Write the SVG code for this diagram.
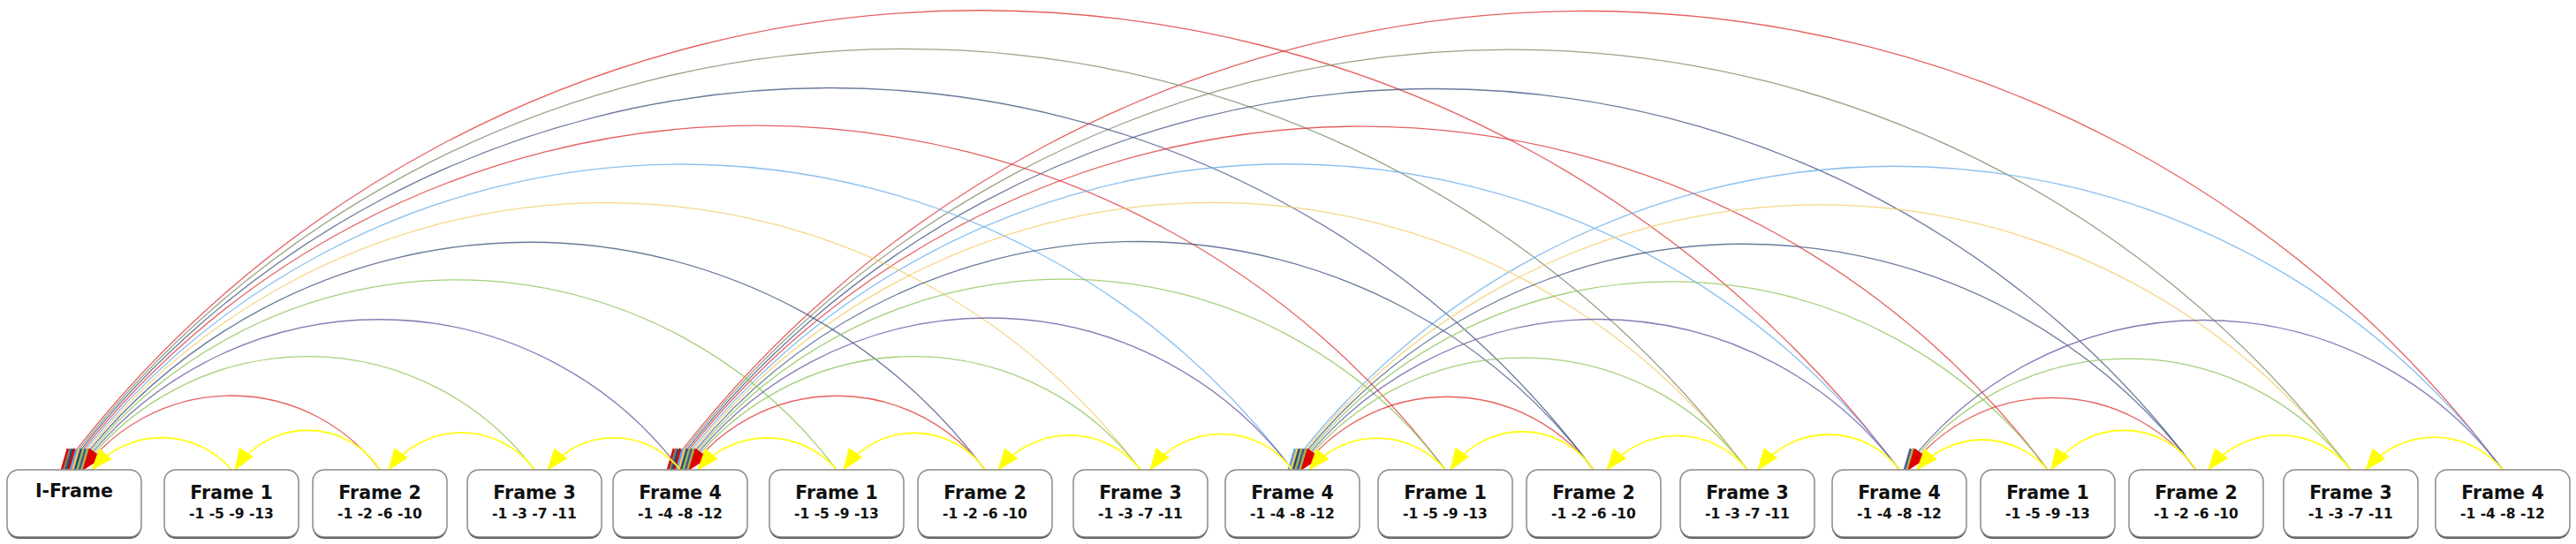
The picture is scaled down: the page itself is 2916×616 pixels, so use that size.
<svg xmlns="http://www.w3.org/2000/svg" width="2916" height="616" viewBox="0 0 2916 616">
<style>
.box{fill:#fff;stroke:#8a8a8a;stroke-width:1.5}
.sh{fill:#4a4a4a}
.t1{font-family:"DejaVu Sans","Liberation Sans",sans-serif;font-weight:bold;font-size:20.5px;fill:#111;text-anchor:middle}
.t2{font-family:"DejaVu Sans","Liberation Sans",sans-serif;font-weight:bold;font-size:15.5px;fill:#111;text-anchor:middle}
path.e{fill:none;stroke-width:1.3}
.y{stroke:#FFFF1A;stroke-width:1.8!important}
.r{stroke:#E03A3A;stroke-opacity:.8}
.g{stroke:#8DC45A;stroke-opacity:.8}
.p{stroke:#6A5BA3;stroke-opacity:.8}
.n{stroke:#3A4E7C;stroke-opacity:.75}
.o{stroke:#F2CC66;stroke-opacity:.8}
.b{stroke:#6AAFEE;stroke-opacity:.8}
.ol{stroke:#7E8C68;stroke-opacity:.8}
</style>
<defs>
<marker id="my" viewBox="0 0 25 19" refX="24" refY="9.5" markerWidth="25" markerHeight="19" markerUnits="userSpaceOnUse" orient="auto"><path d="M0,0 L25,9.5 L0,19 z" fill="#FFFF00"/></marker>
<marker id="mr" viewBox="0 0 25 19" refX="24" refY="9.5" markerWidth="25" markerHeight="19" markerUnits="userSpaceOnUse" orient="auto"><path d="M0,0 L25,9.5 L0,19 z" fill="#E00000"/></marker>
<marker id="mg" viewBox="0 0 25 19" refX="24" refY="9.5" markerWidth="25" markerHeight="19" markerUnits="userSpaceOnUse" orient="auto"><path d="M0,0 L25,9.5 L0,19 z" fill="#92C24E"/></marker>
<marker id="mp" viewBox="0 0 25 19" refX="24" refY="9.5" markerWidth="25" markerHeight="19" markerUnits="userSpaceOnUse" orient="auto"><path d="M0,0 L25,9.5 L0,19 z" fill="#5B4C9A"/></marker>
<marker id="mn" viewBox="0 0 25 19" refX="24" refY="9.5" markerWidth="25" markerHeight="19" markerUnits="userSpaceOnUse" orient="auto"><path d="M0,0 L25,9.5 L0,19 z" fill="#2E4A7A"/></marker>
<marker id="mo" viewBox="0 0 25 19" refX="24" refY="9.5" markerWidth="25" markerHeight="19" markerUnits="userSpaceOnUse" orient="auto"><path d="M0,0 L25,9.5 L0,19 z" fill="#F2C75C"/></marker>
<marker id="mb" viewBox="0 0 25 19" refX="24" refY="9.5" markerWidth="25" markerHeight="19" markerUnits="userSpaceOnUse" orient="auto"><path d="M0,0 L25,9.5 L0,19 z" fill="#5AA6EA"/></marker>
<marker id="mol" viewBox="0 0 25 19" refX="24" refY="9.5" markerWidth="25" markerHeight="19" markerUnits="userSpaceOnUse" orient="auto"><path d="M0,0 L25,9.5 L0,19 z" fill="#76855E"/></marker>
</defs>
<g id="connectors">
<path class="e r" marker-end="url(#mr)" d="M2150,532 A1300.6,1300.6 0 0 0 69,532"/>
<path class="e r" marker-end="url(#mr)" d="M2833,532 A1298.75,1298.75 0 0 0 755,532"/>
<path class="e ol" marker-end="url(#mol)" d="M1978,532 A1191.6,1191.6 0 0 0 71.5,532"/>
<path class="e ol" marker-end="url(#mol)" d="M2661,532 A1189.7,1189.7 0 0 0 757.5,532"/>
<path class="e n" marker-end="url(#mn)" d="M1804,532 A1081.25,1081.25 0 0 0 74,532"/>
<path class="e n" marker-end="url(#mn)" d="M2486,532 A1078.75,1078.75 0 0 0 760,532"/>
<path class="e r" marker-end="url(#mr)" d="M1636,532 A974.7,974.7 0 0 0 76.5,532"/>
<path class="e r" marker-end="url(#mr)" d="M2318,532 A972.2,972.2 0 0 0 762.5,532"/>
<path class="e b" marker-end="url(#mb)" d="M1463,532 A865,865 0 0 0 79,532"/>
<path class="e b" marker-end="url(#mb)" d="M2150,532 A865.6,865.6 0 0 0 765,532"/>
<path class="e b" marker-end="url(#mb)" d="M2833,532 A859.4,859.4 0 0 0 1458,532"/>
<path class="e o" marker-end="url(#mo)" d="M1291,532 A755.9,755.9 0 0 0 81.5,532"/>
<path class="e o" marker-end="url(#mo)" d="M1978,532 A756.6,756.6 0 0 0 767.5,532"/>
<path class="e o" marker-end="url(#mo)" d="M2661,532 A750.3,750.3 0 0 0 1460.5,532"/>
<path class="e n" marker-end="url(#mn)" d="M1115,532 A644.4,644.4 0 0 0 84,532"/>
<path class="e n" marker-end="url(#mn)" d="M1804,532 A646.25,646.25 0 0 0 770,532"/>
<path class="e n" marker-end="url(#mn)" d="M2486,532 A639.4,639.4 0 0 0 1463,532"/>
<path class="e g" marker-end="url(#mg)" d="M947,532 A537.8,537.8 0 0 0 86.5,532"/>
<path class="e g" marker-end="url(#mg)" d="M1636,532 A539.7,539.7 0 0 0 772.5,532"/>
<path class="e g" marker-end="url(#mg)" d="M2318,532 A532.8,532.8 0 0 0 1465.5,532"/>
<path class="e p" marker-end="url(#mp)" d="M770,532 A425.6,425.6 0 0 0 89,532"/>
<path class="e p" marker-end="url(#mp)" d="M1463,532 A430,430 0 0 0 775,532"/>
<path class="e p" marker-end="url(#mp)" d="M2150,532 A426.25,426.25 0 0 0 1468,532"/>
<path class="e p" marker-end="url(#mp)" d="M2833,532 A423.75,423.75 0 0 0 2155,532"/>
<path class="e g" marker-end="url(#mg)" d="M605,532 A320.9,320.9 0 0 0 91.5,532"/>
<path class="e g" marker-end="url(#mg)" d="M1291,532 A320.9,320.9 0 0 0 777.5,532"/>
<path class="e g" marker-end="url(#mg)" d="M1978,532 A317.2,317.2 0 0 0 1470.5,532"/>
<path class="e g" marker-end="url(#mg)" d="M2661,532 A314.7,314.7 0 0 0 2157.5,532"/>
<path class="e r" marker-end="url(#mr)" d="M430,532 A210,210 0 0 0 94,532"/>
<path class="e r" marker-end="url(#mr)" d="M1115,532 A209.4,209.4 0 0 0 780,532"/>
<path class="e r" marker-end="url(#mr)" d="M1804,532 A206.9,206.9 0 0 0 1473,532"/>
<path class="e r" marker-end="url(#mr)" d="M2486,532 A203.75,203.75 0 0 0 2160,532"/>
<path class="e y" marker-end="url(#my)" d="M262,532 A103.75,103.75 0 0 0 104,532"/>
<path class="e y" marker-end="url(#my)" d="M430,532 A97.5,97.5 0 0 0 266,532"/>
<path class="e y" marker-end="url(#my)" d="M605,532 A101.9,101.9 0 0 0 440,532"/>
<path class="e y" marker-end="url(#my)" d="M770,532 A95.6,95.6 0 0 0 620,532"/>
<path class="e y" marker-end="url(#my)" d="M947,532 A103.1,103.1 0 0 0 790,532"/>
<path class="e y" marker-end="url(#my)" d="M1115,532 A97.5,97.5 0 0 0 955,532"/>
<path class="e y" marker-end="url(#my)" d="M1291,532 A102.5,102.5 0 0 0 1130,532"/>
<path class="e y" marker-end="url(#my)" d="M1463,532 A100,100 0 0 0 1302,532"/>
<path class="e y" marker-end="url(#my)" d="M1636,532 A100.6,100.6 0 0 0 1482,532"/>
<path class="e y" marker-end="url(#my)" d="M1804,532 A97.5,97.5 0 0 0 1642,532"/>
<path class="e y" marker-end="url(#my)" d="M1978,532 A101.25,101.25 0 0 0 1819,532"/>
<path class="e y" marker-end="url(#my)" d="M2150,532 A100,100 0 0 0 1990,532"/>
<path class="e y" marker-end="url(#my)" d="M2318,532 A97.5,97.5 0 0 0 2170,532"/>
<path class="e y" marker-end="url(#my)" d="M2486,532 A97.5,97.5 0 0 0 2322,532"/>
<path class="e y" marker-end="url(#my)" d="M2661,532 A101.9,101.9 0 0 0 2500,532"/>
<path class="e y" marker-end="url(#my)" d="M2833,532 A100,100 0 0 0 2678,532"/>
</g>
<g id="n0"><rect class="sh" x="8" y="534" width="152" height="76" rx="13"/><rect class="box" x="8" y="532" width="152" height="76" rx="13"/><text class="t1" x="84" y="563">I-Frame</text></g>
<g id="n1"><rect class="sh" x="186" y="534" width="152" height="76" rx="13"/><rect class="box" x="186" y="532" width="152" height="76" rx="13"/><text class="t1" x="262" y="565">Frame 1</text><text class="t2" x="262" y="587">-1 -5 -9 -13</text></g>
<g id="n2"><rect class="sh" x="354" y="534" width="152" height="76" rx="13"/><rect class="box" x="354" y="532" width="152" height="76" rx="13"/><text class="t1" x="430" y="565">Frame 2</text><text class="t2" x="430" y="587">-1 -2 -6 -10</text></g>
<g id="n3"><rect class="sh" x="529" y="534" width="152" height="76" rx="13"/><rect class="box" x="529" y="532" width="152" height="76" rx="13"/><text class="t1" x="605" y="565">Frame 3</text><text class="t2" x="605" y="587">-1 -3 -7 -11</text></g>
<g id="n4"><rect class="sh" x="694" y="534" width="152" height="76" rx="13"/><rect class="box" x="694" y="532" width="152" height="76" rx="13"/><text class="t1" x="770" y="565">Frame 4</text><text class="t2" x="770" y="587">-1 -4 -8 -12</text></g>
<g id="n5"><rect class="sh" x="871" y="534" width="152" height="76" rx="13"/><rect class="box" x="871" y="532" width="152" height="76" rx="13"/><text class="t1" x="947" y="565">Frame 1</text><text class="t2" x="947" y="587">-1 -5 -9 -13</text></g>
<g id="n6"><rect class="sh" x="1039" y="534" width="152" height="76" rx="13"/><rect class="box" x="1039" y="532" width="152" height="76" rx="13"/><text class="t1" x="1115" y="565">Frame 2</text><text class="t2" x="1115" y="587">-1 -2 -6 -10</text></g>
<g id="n7"><rect class="sh" x="1215" y="534" width="152" height="76" rx="13"/><rect class="box" x="1215" y="532" width="152" height="76" rx="13"/><text class="t1" x="1291" y="565">Frame 3</text><text class="t2" x="1291" y="587">-1 -3 -7 -11</text></g>
<g id="n8"><rect class="sh" x="1387" y="534" width="152" height="76" rx="13"/><rect class="box" x="1387" y="532" width="152" height="76" rx="13"/><text class="t1" x="1463" y="565">Frame 4</text><text class="t2" x="1463" y="587">-1 -4 -8 -12</text></g>
<g id="n9"><rect class="sh" x="1560" y="534" width="152" height="76" rx="13"/><rect class="box" x="1560" y="532" width="152" height="76" rx="13"/><text class="t1" x="1636" y="565">Frame 1</text><text class="t2" x="1636" y="587">-1 -5 -9 -13</text></g>
<g id="n10"><rect class="sh" x="1728" y="534" width="152" height="76" rx="13"/><rect class="box" x="1728" y="532" width="152" height="76" rx="13"/><text class="t1" x="1804" y="565">Frame 2</text><text class="t2" x="1804" y="587">-1 -2 -6 -10</text></g>
<g id="n11"><rect class="sh" x="1902" y="534" width="152" height="76" rx="13"/><rect class="box" x="1902" y="532" width="152" height="76" rx="13"/><text class="t1" x="1978" y="565">Frame 3</text><text class="t2" x="1978" y="587">-1 -3 -7 -11</text></g>
<g id="n12"><rect class="sh" x="2074" y="534" width="152" height="76" rx="13"/><rect class="box" x="2074" y="532" width="152" height="76" rx="13"/><text class="t1" x="2150" y="565">Frame 4</text><text class="t2" x="2150" y="587">-1 -4 -8 -12</text></g>
<g id="n13"><rect class="sh" x="2242" y="534" width="152" height="76" rx="13"/><rect class="box" x="2242" y="532" width="152" height="76" rx="13"/><text class="t1" x="2318" y="565">Frame 1</text><text class="t2" x="2318" y="587">-1 -5 -9 -13</text></g>
<g id="n14"><rect class="sh" x="2410" y="534" width="152" height="76" rx="13"/><rect class="box" x="2410" y="532" width="152" height="76" rx="13"/><text class="t1" x="2486" y="565">Frame 2</text><text class="t2" x="2486" y="587">-1 -2 -6 -10</text></g>
<g id="n15"><rect class="sh" x="2585" y="534" width="152" height="76" rx="13"/><rect class="box" x="2585" y="532" width="152" height="76" rx="13"/><text class="t1" x="2661" y="565">Frame 3</text><text class="t2" x="2661" y="587">-1 -3 -7 -11</text></g>
<g id="n16"><rect class="sh" x="2757" y="534" width="152" height="76" rx="13"/><rect class="box" x="2757" y="532" width="152" height="76" rx="13"/><text class="t1" x="2833" y="565">Frame 4</text><text class="t2" x="2833" y="587">-1 -4 -8 -12</text></g>
</svg>
